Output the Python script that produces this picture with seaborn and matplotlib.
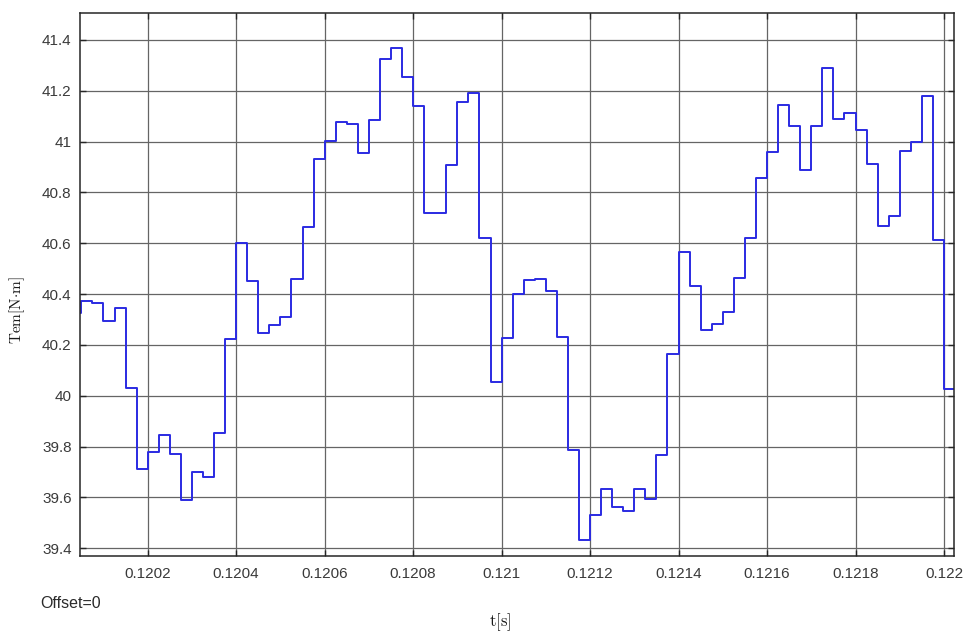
import numpy as np
import pandas as pd
import matplotlib
matplotlib.use("Agg")
import matplotlib.pyplot as plt
import seaborn as sns

# ---- data ----
t_start = 0.120025          # time of first held sample [s]
t_step = 2.5e-5             # sample period [s]
tem_values = [
    40.325, 40.374, 40.364, 40.295, 40.345, 40.029, 39.712, 39.779, 39.845, 39.772,
    39.588, 39.700, 39.682, 39.853, 40.225, 40.600, 40.453, 40.246, 40.278, 40.311,
    40.459, 40.663, 40.930, 41.003, 41.078, 41.068, 40.955, 41.087, 41.325, 41.367,
    41.255, 41.139, 40.720, 40.720, 40.908, 41.154, 41.193, 40.620, 40.054, 40.226,
    40.400, 40.455, 40.459, 40.413, 40.233, 39.786, 39.433, 39.532, 39.633, 39.561,
    39.547, 39.633, 39.595, 39.766, 40.163, 40.564, 40.433, 40.259, 40.284, 40.328,
    40.463, 40.621, 40.858, 40.959, 41.146, 41.061, 40.887, 41.061, 41.291, 41.088,
    41.111, 41.047, 40.913, 40.667, 40.707, 40.962, 40.999, 41.179, 40.613, 40.025,
]
x_ticks = [0.1202, 0.1204, 0.1206, 0.1208, 0.1210, 0.1212, 0.1214, 0.1216, 0.1218, 0.1220]
x_tick_labels = ["0.1202", "0.1204", "0.1206", "0.1208", "0.121", "0.1212", "0.1214",
                 "0.1216", "0.1218", "0.122"]
y_ticks = [39.4, 39.6, 39.8, 40.0, 40.2, 40.4, 40.6, 40.8, 41.0, 41.2, 41.4]
y_tick_labels = ["39.4", "39.6", "39.8", "40", "40.2", "40.4", "40.6", "40.8", "41",
                 "41.2", "41.4"]
x_limits = (0.120047, 0.1220233)
y_limits = (39.368, 41.505)

# hold the last sample to the right edge
vals = tem_values + [tem_values[-1]]
t = t_start + t_step * np.arange(len(vals))
df = pd.DataFrame({"t": t, "Tem": vals})

sns.set_theme(style="white")
plt.rcParams["font.family"] = ["Liberation Sans", "DejaVu Sans"]
plt.rcParams["mathtext.fontset"] = "cm"

fig = plt.figure(figsize=(9.68, 6.37), dpi=100)
ax = fig.add_axes([80 / 968, 1 - 556.3 / 637, (954.3 - 80) / 968, (556.3 - 13.3) / 637])

sns.lineplot(data=df, x="t", y="Tem", ax=ax, drawstyle="steps-post",
             color="#2a2ae2", linewidth=1.4, estimator=None, sort=False)

ax.set_xlim(*x_limits)
ax.set_ylim(*y_limits)
ax.set_xticks(x_ticks)
ax.set_xticklabels(x_tick_labels)
ax.set_yticks(y_ticks)
ax.set_yticklabels(y_tick_labels)
ax.grid(True, color="#656565", linewidth=0.9, alpha=1.0)
ax.set_axisbelow(True)
for s in ax.spines.values():
    s.set_visible(True)
    s.set_color("#262626")
    s.set_linewidth(1.1)
ax.tick_params(axis="both", which="major", direction="in", length=4, width=1.0,
               color="#262626", top=True, right=True, bottom=True, left=True,
               labelsize=11, labelcolor="#3a3a3a")
ax.tick_params(axis="x", pad=8)
ax.tick_params(axis="y", pad=6)
ax.set_xlabel("")
ax.set_ylabel("")

fig.text(17 / 968, 1 - 310 / 637, r"$\mathrm{Tem[N{\cdot}m]}$", rotation=90,
         ha="center", va="center", fontsize=11, color="#1a1a1a")
fig.text(500 / 968, 1 - 622 / 637, r"$\mathrm{t[s]}$", ha="center", va="center",
         fontsize=12, color="#1a1a1a")
fig.text(40 / 968, 1 - 603 / 637, "Offset=0", ha="left", va="center",
         fontsize=11.5, color="#2a2a2a")

fig.savefig("out.png", dpi=100, facecolor="white")
